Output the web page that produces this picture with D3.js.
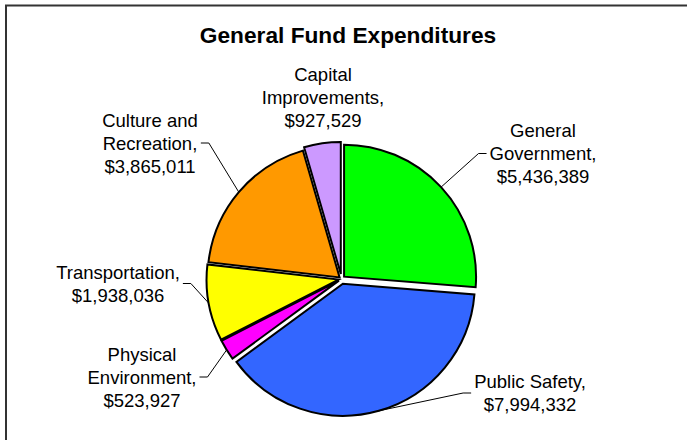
<!DOCTYPE html>
<html>
<head>
<meta charset="utf-8">
<script src="https://cdn.jsdelivr.net/npm/d3@7/dist/d3.min.js"></script>
<style>
  body { margin: 0; background: #fff; }
  text { font-family: "Liberation Sans", Arial, sans-serif; fill: #000; }
</style>
</head>
<body>
<svg width="687" height="440"></svg>
<script>
// data
var categories = ["General\nGovernment", "Public Safety", "Physical\nEnvironment",
                  "Transportation", "Culture and\nRecreation", "Capital\nImprovements"];
var values = [5436389, 7994332, 523927, 1938036, 3865011, 927529];
var colors = ["#00ff00", "#3366ff", "#ff00ff", "#ffff00", "#ff9900", "#cc99ff"];

// layout (label block centres, slice explode in px)
var labelX = [543, 530, 142, 118, 150, 323],
    labelY = [153.5, 393, 377, 283.5, 143, 97.5],
    explode = [3.5, 5, 3, 3, 2.5, 5],
    showLeader = [true, true, true, true, true, false];

var svg = d3.select("svg"),
    width = +svg.attr("width"),
    height = +svg.attr("height");

var cx = 341.5, cy = 279, radius = 132, lineH = 23;

// frame
svg.append("rect")
    .attr("x", 6).attr("y", 5.5)
    .attr("width", width + 20).attr("height", height + 20)
    .attr("fill", "none")
    .attr("stroke", "#333")
    .attr("stroke-width", 2);

svg.append("text")
    .attr("x", 348).attr("y", 43)
    .attr("text-anchor", "middle")
    .style("font-size", "22.7px")
    .style("font-weight", "bold")
    .text("General Fund Expenditures");

var pie = d3.pie().sort(null).value(function(d) { return d; });
var arcs = pie(values);
var arc = d3.arc().innerRadius(0).outerRadius(radius);
var fmt = d3.format("$,");

function mid(d) { return (d.startAngle + d.endAngle) / 2; }

var g = svg.append("g").attr("transform", "translate(" + cx + "," + cy + ")");

g.selectAll(".slice")
  .data(arcs)
  .enter().append("path")
    .attr("class", "slice")
    .attr("transform", function(d, i) {
      var a = mid(d);
      return "translate(" + (Math.sin(a) * explode[i]) + "," + (-Math.cos(a) * explode[i]) + ")";
    })
    .attr("d", arc)
    .attr("fill", function(d, i) { return colors[i]; })
    .attr("stroke", "#000")
    .attr("stroke-width", 2)
    .attr("stroke-linejoin", "miter");

// labels
arcs.forEach(function(d, i) {
  var lines = categories[i].split("\n");
  lines[lines.length - 1] += ",";
  lines.push(fmt(values[i]));
  var top = labelY[i] - (lines.length - 1) * lineH / 2;

  var t = svg.append("text")
      .attr("text-anchor", "middle")
      .style("font-size", "18.5px");
  lines.forEach(function(s, k) {
    t.append("tspan")
      .attr("x", labelX[i])
      .attr("y", top + k * lineH + 6.5)
      .text(s);
  });

  if (!showLeader[i]) return;
  var w = d3.max(t.selectAll("tspan").nodes(), function(n) { return n.getComputedTextLength(); });
  var a = mid(d),
      r = radius + explode[i],
      ax = cx + Math.sin(a) * r,
      ay = cy - Math.cos(a) * r;
  var side = labelX[i] > ax ? -1 : 1,
      x0 = labelX[i] + side * (w / 2 + 3),
      x1 = x0 + side * 8;
  svg.append("path")
      .attr("d", "M" + x0 + "," + labelY[i] + "L" + x1 + "," + labelY[i] + "L" + ax + "," + ay)
      .attr("fill", "none")
      .attr("stroke", "#000")
      .attr("stroke-width", 1);
});
</script>
</body>
</html>
